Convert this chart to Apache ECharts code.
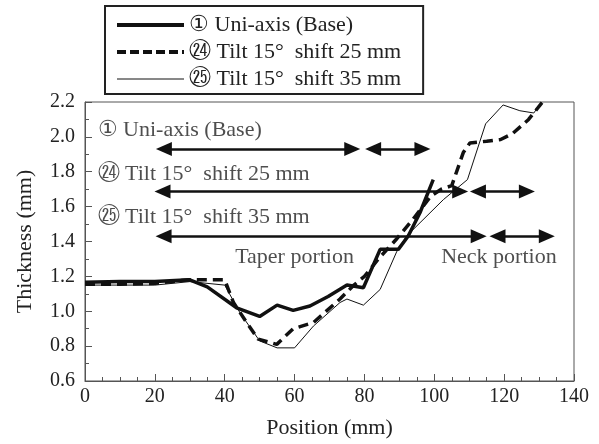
<!DOCTYPE html>
<html>
<head>
<meta charset="utf-8">
<script src="https://cdn.jsdelivr.net/npm/echarts@6/dist/echarts.min.js"></script>
<style>
  html, body { margin: 0; padding: 0; background: #fff; }
  #chart { width: 599px; height: 444px; }
</style>
</head>
<body>
<div id="chart"></div>
<script>
// 数据
const seriesNames = ["\u2460 Uni-axis (Base)", "\u3254 Tilt 15\u00b0  shift 25 mm", "\u3255 Tilt 15\u00b0  shift 35 mm"];

const basePos = [0, 10, 20, 30, 35, 43.4, 50, 55, 59.6, 64.4, 69.6, 75, 79.7, 84.5, 89.7, 92.5, 95.9, 99.7];
const baseThick = [1.167, 1.17, 1.17, 1.18, 1.14, 1.02, 0.97, 1.035, 1.005, 1.03, 1.085, 1.15, 1.135, 1.355, 1.355, 1.43, 1.565, 1.755];

const s25Pos = [0, 10, 20, 27, 30, 40, 42.5, 46.3, 49.6, 54.9, 59.6, 65.4, 73, 77, 80, 84, 89, 94, 99, 102, 105, 108.3, 110.2, 115, 119, 122.5, 127, 131];
const s25Thick = [1.155, 1.155, 1.16, 1.175, 1.18, 1.18, 1.05, 0.935, 0.84, 0.81, 0.9, 0.935, 1.07, 1.15, 1.2, 1.3, 1.41, 1.53, 1.66, 1.7, 1.72, 1.91, 1.965, 1.975, 1.985, 2.02, 2.1, 2.2];

const s35Pos = [0, 10, 20, 30, 40, 44.4, 50, 55, 60, 65.4, 73, 75, 79.7, 84.5, 89.2, 92, 102.6, 109.5, 114.7, 119.7, 124.5, 128.5, 130.7];
const s35Thick = [1.15, 1.15, 1.15, 1.17, 1.15, 0.99, 0.83, 0.79, 0.79, 0.915, 1.05, 1.07, 1.035, 1.125, 1.34, 1.43, 1.64, 1.755, 2.075, 2.183, 2.15, 2.137, 2.2];

// 注释文字
const noteTexts = ["\u2460 Uni-axis (Base)", "\u3254 Tilt 15\u00b0  shift 25 mm", "\u3255 Tilt 15\u00b0  shift 35 mm", "Taper portion", "Neck portion"];
const notePos = [3.6, 3.6, 3.6, 60, 118.5];
const noteThick = [2.04, 1.783, 1.537, 1.31, 1.31];
const noteAlign = ["left", "left", "left", "center", "center"];

// 箭头 (箭头尖端位置, 高度)
const arrowFrom = [20.3, 80.2, 19.9, 110.2, 20.2, 115.8];
const arrowTo = [78.8, 98.9, 109.7, 128.8, 115, 134.5];
const arrowY = [1.93, 1.93, 1.687, 1.687, 1.43, 1.43];

const FONT = "'Liberation Serif', 'DejaVu Serif', serif";
const HEAD = [14, 16]; // 箭头大小
const inset = HEAD[1] / 2 / (489 / 140); // 箭头中心内缩 (mm)

function zip(xs, ys) {
  return xs.map((x, i) => [x, ys[i]]);
}

const chart = echarts.init(document.getElementById("chart"));

chart.setOption({
  animation: false,
  textStyle: { fontFamily: FONT },
  grid: {
    left: 85, right: 25, top: 102, bottom: 62,
    show: true, borderColor: "#555", borderWidth: 1
  },
  legend: {
    left: 105, top: 6,
    orient: "vertical",
    data: [
      { name: seriesNames[0], lineStyle: { width: 4 } },
      { name: seriesNames[1], lineStyle: { width: 4, type: [9, 4] } },
      { name: seriesNames[2], lineStyle: { width: 1 } }
    ],
    itemWidth: 67, itemHeight: 14, itemGap: 5,
    itemStyle: { opacity: 0 },
    padding: [8, 22, 4, 10],
    borderColor: "#222", borderWidth: 2,
    textStyle: { fontFamily: FONT, fontSize: 22, color: "#222" }
  },
  xAxis: {
    type: "value", min: 0, max: 140, interval: 20,
    name: "Position (mm)", nameLocation: "middle", nameGap: 36,
    nameTextStyle: { fontFamily: FONT, fontSize: 22, color: "#222" },
    axisLine: { lineStyle: { color: "#555" } },
    axisTick: { inside: true, length: 7, lineStyle: { color: "#555" } },
    minorTick: { show: true, splitNumber: 4, length: 4, lineStyle: { color: "#555" } },
    axisLabel: { fontFamily: FONT, fontSize: 20, color: "#222", margin: 6 },
    splitLine: { show: false }
  },
  yAxis: {
    type: "value", min: 0.6, max: 2.2, interval: 0.2,
    name: "Thickness (mm)", nameLocation: "middle", nameGap: 49,
    nameTextStyle: { fontFamily: FONT, fontSize: 22, color: "#222" },
    axisLine: { show: true, lineStyle: { color: "#555" } },
    axisTick: { inside: true, length: 7, lineStyle: { color: "#555" } },
    minorTick: { show: true, splitNumber: 2, length: 4, lineStyle: { color: "#555" } },
    axisLabel: {
      fontFamily: FONT, fontSize: 20, color: "#222", margin: 10,
      formatter: v => v.toFixed(1)
    },
    splitLine: { show: false }
  },
  series: [
    {
      name: seriesNames[0], type: "line", data: zip(basePos, baseThick),
      symbol: "none", lineStyle: { color: "#111", width: 3.5 }, itemStyle: { color: "#111" }
    },
    {
      name: seriesNames[1], type: "line", data: zip(s25Pos, s25Thick),
      symbol: "none", lineStyle: { color: "#111", width: 3.5, type: [10, 6] }, itemStyle: { color: "#111" }
    },
    {
      name: seriesNames[2], type: "line", data: zip(s35Pos, s35Thick),
      symbol: "none", lineStyle: { color: "#111", width: 1 }, itemStyle: { color: "#111" }
    },
    {
      // 注释与箭头
      type: "scatter", symbolSize: 0, silent: true,
      data: notePos.map((x, i) => ({
        value: [x, noteThick[i]],
        label: {
          show: true, position: "inside", formatter: noteTexts[i], align: noteAlign[i],
          fontFamily: FONT, fontSize: 22, color: "#222"
        }
      })),
      markLine: {
        silent: true, symbol: ["triangle", "triangle"], symbolSize: HEAD,
        label: { show: false },
        lineStyle: { color: "#111", width: 2.5, type: "solid" },
        data: arrowFrom.map((x, i) => [
          { coord: [x + inset, arrowY[i]] },
          { coord: [arrowTo[i] - inset, arrowY[i]] }
        ])
      }
    }
  ]
});
</script>
</body>
</html>
